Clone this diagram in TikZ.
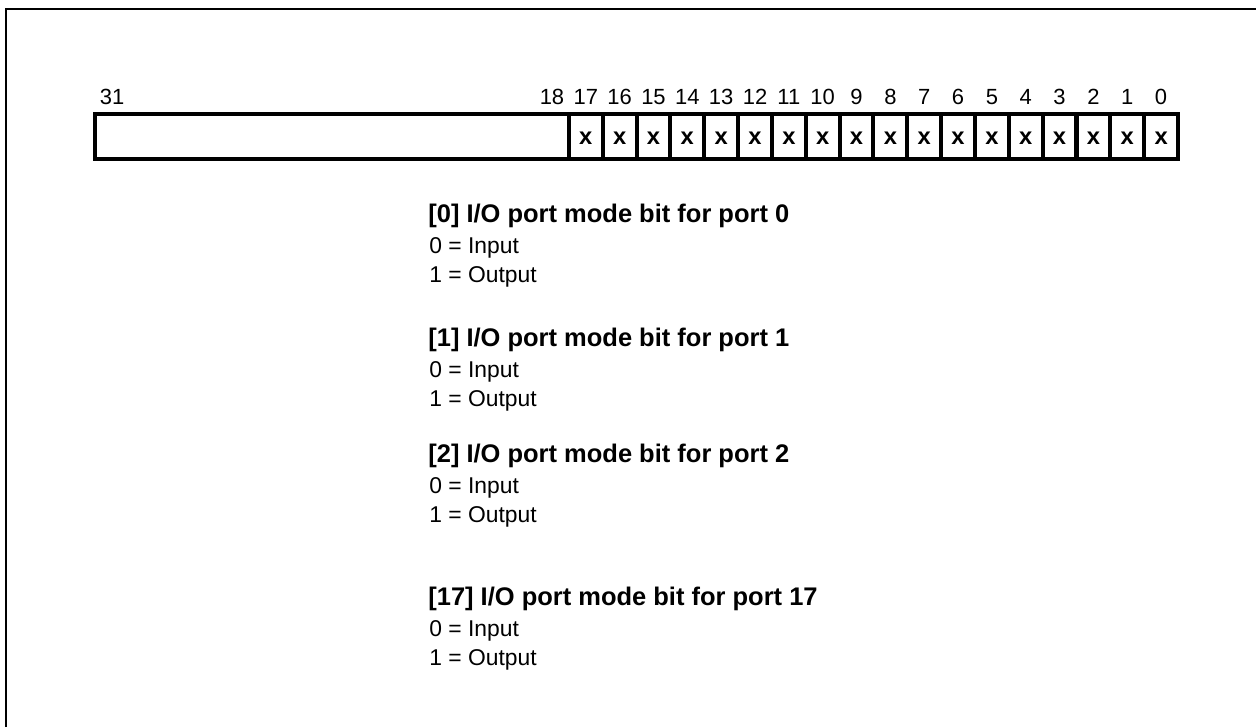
\documentclass[tikz,border=0pt]{standalone}
\usepackage{fontspec}
\setmainfont{Liberation Sans}
\usetikzlibrary{positioning}

\tikzset{
  bitcell/.style={rectangle, draw=black, line width=2.3pt,
    inner sep=0pt, outer sep=0pt,
    minimum width=0.6768cm, minimum height=0.9cm,
    text height=9.6pt, text depth=0pt,
    font=\fontsize{13.5}{15}\selectfont\bfseries},
  bitnum/.style={anchor=base, inner sep=0pt,
    font=\fontsize{12.5}{14}\selectfont},
  fieldtitle/.style={anchor=base west, inner sep=0pt,
    font=\fontsize{14.5}{16}\selectfont\bfseries},
  fielddesc/.style={anchor=base west, inner sep=0pt,
    font=\fontsize{13}{15}\selectfont},
}

\begin{document}
\begin{tikzpicture}[x=0.02cm, y=-0.02cm]
\useasboundingbox (0,0) rectangle (1256,727);

% Frame
\draw[line width=1.2pt] (6,727) -- (6,9) -- (1256,9);

% Register: reserved field [31:18]
\node[bitcell, minimum width=9.474cm] (res) at (331.9,136.5) {};

% Register: bits [17:0]
\foreach \i in {0,...,17}
  \node[bitcell] (b\i) at ({1178-(\i+0.5)*33.84},136.5) {x};

% Bit numbers
\foreach \i in {0,...,18}
  \node[bitnum] (n\i) at ({1178-(\i+0.5)*33.84},104.5) {\i};
\node[bitnum] (n31) at ({1178-31.5*33.84},104.5) {31};

% Field descriptions
\foreach \b/\y in {0/222, 1/346, 2/462, 17/605} {
  \node[fieldtitle] (t\b) at (428,\y) {[\b] I/O port mode bit for port \b};
  \node[fielddesc] (in\b) at (429,\y+31) {0 = Input};
  \node[fielddesc] (out\b) at (429,\y+60) {1 = Output};
}

\end{tikzpicture}
\end{document}
